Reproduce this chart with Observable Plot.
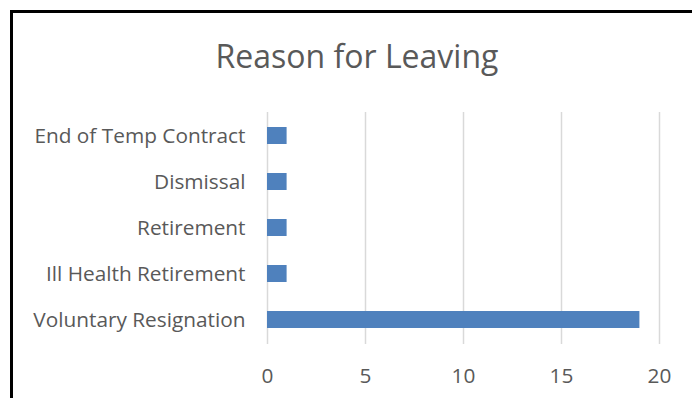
<!DOCTYPE html>
<html>
<head>
<meta charset="utf-8">
<script src="https://cdn.jsdelivr.net/npm/d3@7"></script>
<script src="https://cdn.jsdelivr.net/npm/@observablehq/plot@0.6"></script>
<style>
  html, body { margin: 0; padding: 0; background: #fff; width: 692px; height: 398px; overflow: hidden; }
  #frame { position: absolute; left: 10px; top: 10px; width: 700px; height: 400px;
           border-left: 3px solid #000; border-top: 3px solid #000; box-sizing: border-box; }
  #title { position: absolute; left: 0; top: 34px; width: 714px; text-align: center; line-height: 44px;
           font-family: "Open Sans", sans-serif; font-size: 32px; color: #595959; }
  #chart { position: absolute; left: 0; top: 0; }
</style>
</head>
<body>
<div id="frame"></div>
<div id="title">Reason for Leaving</div>
<div id="chart"></div>
<script>
const reasons = ["End of Temp Contract", "Dismissal", "Retirement", "Ill Health Retirement", "Voluntary Resignation"];
const counts = [1, 1, 1, 1, 19];
const xTicks = [0, 5, 10, 15, 20];

const data = reasons.map((r, i) => ({reason: r, count: counts[i]}));

const chart = Plot.plot({
  width: 692,
  height: 398,
  marginLeft: 267,
  marginRight: 33,
  marginTop: 112,
  marginBottom: 54,
  style: {fontFamily: "Open Sans, sans-serif", fontSize: "20.8px", color: "#595959", background: "transparent", overflow: "visible"},
  x: {domain: [0, 20], ticks: xTicks, label: null},
  y: {domain: reasons, label: null, paddingInner: 0.63, paddingOuter: 0.315},
  marks: [
    Plot.gridX(xTicks, {stroke: "#d9d9d9", strokeOpacity: 1, strokeWidth: 1.5}),
    Plot.barX(data, {x: "count", y: "reason", fill: "#4f81bd"}),
    Plot.axisX(xTicks, {tickSize: 0, tickPadding: 24, fill: "#595959", fontSize: 20.8}),
    Plot.axisY({tickSize: 0, tickPadding: 22, fill: "#595959", fontSize: 20.8})
  ]
});
document.getElementById("chart").appendChild(chart);
</script>
</body>
</html>
